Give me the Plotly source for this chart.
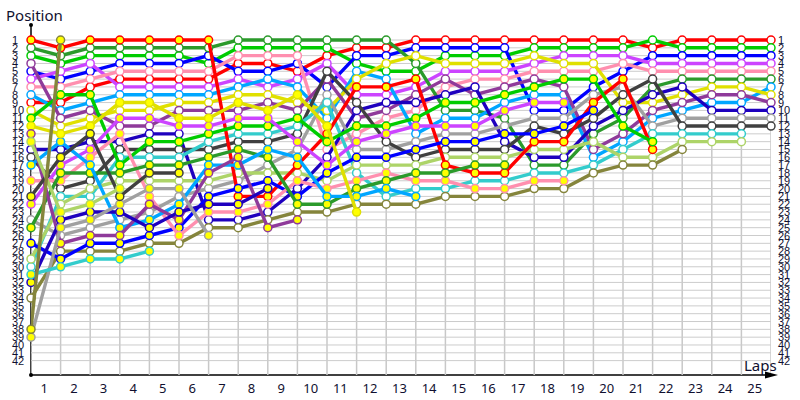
import plotly.graph_objects as go

# Running order per lap (None = empty slot on the grid)
LAP_00 = ["R","D","G","P","B","V","K","L","R2","Y","G2","Y2","P2","A","N","K1","L2",None,"K2",None,"K2d","V2",None,"W","D2",None,"B2",None,"A2","C1","C2","N2",None,"O",None,None,None,"O2","W2"]
LAP_01 = ["O2","R","D","G","V","B","K","G2","R2","L","P","Y","Y2","L2","N","K2d","V2","D2","K2","K1","C1","A2","A","N2","W2","W","P2","O","B2","C2"]
LAP_02 = ["R","D","G","V","B","K","R2","G2","L","P","Y","Y2","K2d","N","V2","K2","L2","D2","K1","A2","C1","A","N2","W2","W","P2","B2","O","C2"]
LAP_03 = ["R","D","G","B","K","R2","V","L","Y2","Y","V2","P","K2","N","K1","C1","G2","D2","A2","A","K2d","W2","N2","W","L2","P2","B2","O","C2"]
LAP_04 = ["R","D","G","B","K","R2","V","L","Y2","Y","V2","P","N","G2","K1","C1","D2","K2d","A2","W2","K2","P2","W","L2","N2","B2","O","C2"]
LAP_05 = ["R","D","G","B","K","R2","V","L","Y","P","Y2","V2","N","G2","K1","C1","D2","K2d","A2","W2","W","L2","N2","P2","B2","K2","O"]
LAP_06 = ["R","D","B","G","K","R2","V","L","Y","P","Y2","V2","G2","C1","K1","D2","L2","P2","A2","W","B2","N2","K2","N","O","W2"]
LAP_07 = ["D","G","K","R2","B","V","L","Y","Y2","P","V2","G2","C1","K1","D2","P2","L2","A2","W","B2","R","N2","K2","N","O"]
LAP_08 = ["D","G","K","R2","B","L","V","Y","P","Y2","V2","G2","C1","K1","L2","D2","W","A2","B2","N2","R","K2","N","O","P2"]
LAP_09 = ["D","G","K","B","R2","V","L","Y2","Y","P","G2","C1","K1","V2","W","L2","R","A2","K2","N","B2","D2","O","P2"]
LAP_10 = ["D","G","R2","V","K1","P","B","W","C1","Y","L","Y2","R","G2","K","N","V2","B2","A2","K2","L2","D2","O"]
LAP_11 = ["D","R2","B","G","L","Y","R","V","K1","N","P","G2","K","V2","W","B2","A2","C1","K2","D2","L2","O","Y2"]
LAP_12 = ["D","R2","B","Y","G","L","R","V","N","P","K","G2","V2","K1","W","B2","A2","K2","D2","L2","C1","O"]
LAP_13 = ["R2","B","Y","D","G","R","V","P","N","K","G2","V2","L","W","B2","K1","A2","D2","K2","C1","L2","O"]
LAP_14 = ["R2","B","G","Y","V","P","K","N","G2","D","L","V2","W","B2","K1","A2","R","D2","K2","C1","O"]
LAP_15 = ["R2","B","G","Y","V","K","N","P","G2","D","L","V2","W","B2","K1","A2","D2","R","C1","K2","O"]
LAP_16 = ["R2","B","G","Y","V","K","P","G2","L","V2","D","W","B2","N","K1","A2","D2","R","C1","K2","O"]
LAP_17 = ["R2","G","Y","V","K","P","G2","L","V2","B","W","K1","B2","R","A2","N","D","C1","K2","O"]
LAP_18 = ["R2","G","V","Y","K","G2","P","L","V2","B","W","B2","K1","R","A2","N","D","C1","K2","O"]
LAP_19 = ["R2","G","V","Y","K","G2","B","W","R","B2","K1","N","D","A2","P","L","C1","O"]
LAP_20 = ["R2","G","V","K","B","R","W","K1","Y","N","D","G2","P","L","C1","A2","O"]
LAP_21 = ["G","R2","B","V","K","K1","D","N","Y","P","L","W","C1","G2","R","A2","O"]
LAP_22 = ["R2","G","B","V","K","D","N","Y","P","L","W","K1","C1","A2","O"]
LAP_23 = ["R2","G","B","V","K","D","Y","P","L","N","W","K1","C1","A2"]
LAP_24 = ["R2","G","B","V","K","D","Y","P","L","N","W","K1","C1","A2"]
LAP_25 = ["R2","G","B","V","K","D","L","Y","P","N","W","K1"]

LAPS = [LAP_00, LAP_01, LAP_02, LAP_03, LAP_04, LAP_05, LAP_06, LAP_07, LAP_08, LAP_09,
        LAP_10, LAP_11, LAP_12, LAP_13, LAP_14, LAP_15, LAP_16, LAP_17, LAP_18, LAP_19,
        LAP_20, LAP_21, LAP_22, LAP_23, LAP_24, LAP_25]

# Drivers in drawing order: two rounds of the same colour cycle
WHITE_CARS = ["R2","G","B","V","K","D","L","Y","P","N","W","K1","C1","A2","O"]
YELLOW_CARS = ["R","G2","B2","V2","K2","D2","L2","Y2","P2","N2","W2","K2d","C2","A","O2"]
COLORS = ["#FF0000","#00CC00","#0000FF","#CC44FF","#FF8FAF","#2B9A2B","#00A6FF","#E0E000",
          "#8F3A9A","#1E00BE","#A0A0A0","#404040","#33CCCC","#ADD468","#85853C"]
POSITIONS = list(range(1, 43))
LAP_NUMBERS = list(range(1, 26))

L, R, T, B = 31, 29, 25, 25
W_PX, H_PX = 800, 400
P1_Y, STEP = 40.0, 7.82
y_top = 1 + (T - P1_Y) / STEP
y_bot = 1 + (H_PX - B - P1_Y) / STEP
plot_w = W_PX - L - R
plot_h = H_PX - T - B
px = lambda v: (v - L) / plot_w
py = lambda v: 1 - (v - T) / plot_h

fig = go.Figure()

shapes = []
for k in range(0, 26):
    shapes.append(dict(type="line", xref="x", yref="y", x0=k, x1=k, y0=1, y1=y_bot,
                       line=dict(color="#C8C8C8", width=1.5), layer="below"))
for p in POSITIONS:
    shapes.append(dict(type="line", xref="x", yref="y", x0=0, x1=25, y0=p, y1=p,
                       line=dict(color="#CCCCCC", width=1), layer="below"))
# axes with end dots and arrow
shapes.append(dict(type="line", xref="paper", yref="paper", x0=0, x1=0, y0=py(375), y1=py(25),
                   line=dict(color="black", width=1.5), layer="below"))
shapes.append(dict(type="line", xref="paper", yref="paper", x0=0, x1=px(770), y0=py(375), y1=py(375),
                   line=dict(color="black", width=1.5), layer="below"))
for yy in (25, 375):
    shapes.append(dict(type="circle", xref="paper", yref="paper",
                       x0=px(29), x1=px(33), y0=py(yy + 2), y1=py(yy - 2),
                       fillcolor="black", line=dict(width=0)))
shapes.append(dict(type="path", xref="paper", yref="paper",
                   path=f"M {px(765)} {py(371.5)} L {px(778)} {py(375)} L {px(765)} {py(378.5)} Z",
                   fillcolor="black", line=dict(width=0)))

cars = [(c, COLORS[i], "#FFFFFF") for i, c in enumerate(WHITE_CARS)] + \
       [(c, COLORS[i], "#FFFF00") for i, c in enumerate(YELLOW_CARS)]
for car, color, fill in cars:
    xs, ys = [], []
    for lap, order in enumerate(LAPS):
        if car in order:
            xs.append(lap)
            ys.append(order.index(car) + 1)
    fig.add_trace(go.Scatter(x=xs, y=ys, mode="lines+markers", cliponaxis=False,
                             line=dict(color=color, width=3.4),
                             marker=dict(size=8, color=fill, line=dict(color=color, width=1.5)),
                             hoverinfo="skip", showlegend=False))

TICK_FONT = dict(family="Liberation Sans", size=11, color="#101030")
annotations = []
for p in POSITIONS:
    annotations.append(dict(xref="paper", yref="y", x=px(12), y=p, text=str(p), showarrow=False,
                            xanchor="left", yanchor="middle", font=TICK_FONT, borderpad=0, xshift=-1))
    annotations.append(dict(xref="paper", yref="y", x=px(778), y=p, text=str(p), showarrow=False,
                            xanchor="left", yanchor="middle", font=TICK_FONT, borderpad=0, xshift=-1))
annotations.append(dict(xref="paper", yref="paper", x=px(5), y=py(15), text="Position", showarrow=False,
                        xanchor="left", yanchor="middle", font=dict(family="Noto Sans", size=15, color="#101030"),
                        xshift=-1))
annotations.append(dict(xref="paper", yref="paper", x=px(743), y=py(365), text="Laps", showarrow=False,
                        xanchor="left", yanchor="middle", font=dict(family="Noto Sans", size=15, color="#101030"),
                        xshift=-1))

fig.update_layout(
    width=W_PX, height=H_PX, margin=dict(l=L, r=R, t=T, b=B, pad=0, autoexpand=False),
    paper_bgcolor="white", plot_bgcolor="white", showlegend=False,
    shapes=shapes, annotations=annotations,
    xaxis=dict(range=[0, 25], showgrid=False, zeroline=False, showline=False, ticks="", automargin=False,
               tickmode="array", tickvals=[n - 0.55 for n in LAP_NUMBERS],
               ticktext=[str(n) for n in LAP_NUMBERS], ticklabelstandoff=4,
               tickfont=dict(family="Noto Sans", size=13, color="#101030")),
    yaxis=dict(range=[y_bot, y_top], showgrid=False, zeroline=False, showline=False, automargin=False,
               showticklabels=False, ticks=""),
)
fig.write_html("out.html", config={"displayModeBar": False},
               post_script="document.body.style.margin='0';document.body.style.overflow='hidden';")
